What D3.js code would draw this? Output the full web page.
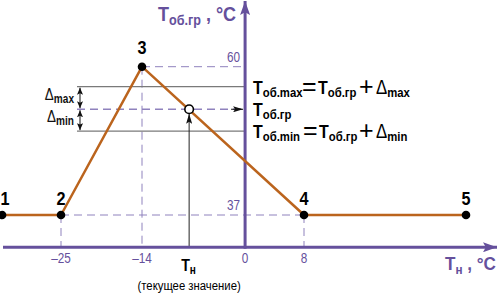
<!DOCTYPE html>
<html>
<head>
<meta charset="utf-8">
<script src="https://cdn.jsdelivr.net/npm/d3@7"></script>
<style>
  body { margin: 0; background: #fff; }
  svg { display: block; }
  text { font-family: "Liberation Sans", Arial, sans-serif; }
</style>
</head>
<body>
<div id="container"></div>
<script>
// точки графика (Tн, Tоб.гр)
const pointT = [-33, -25, -14, 8, 30];
const pointY = [37, 37, 60, 37, 37];
const pointLabels = ["1", "2", "3", "4", "5"];

const xTicks = [-25, -14, 0, 8];
const xTickLabels = ["–25", "–14", "0", "8"];
const yTicks = [37, 60];

// текущее значение и уставки
const tCur = -7.6;
const tGr = 53.4;
const tMax = 56.9;
const tMin = 50.0;

const W = 500, H = 294;
const purple = "#65509c",
      purpleLight = "#8f82bd",
      orange = "#bb641d",
      grey = "#7a7a7a",
      narrow = 0.84;   // шрифт "узкий" — сжимаем по горизонтали

const x = d3.scaleLinear().domain([-25, 8]).range([61, 304]);
const y = d3.scaleLinear().domain([37, 60]).range([215, 66.7]);

const x0 = x(0), yAxisV = 32, yA = y(yAxisV);

const svg = d3.select('#container')
    .append('svg')
    .attr('width', W)
    .attr('height', H);

// текст в узкой группе
function ntext(px, py, anchor, sx) {
    return svg.append("g")
        .attr("transform", `translate(${px},${py}) scale(${sx || narrow},1)`)
        .append("text")
        .attr("text-anchor", anchor || "start");
}

const defs = svg.append("defs");
function marker(id, color, w, h) {
    defs.append("marker")
        .attr("id", id)
        .attr("viewBox", `0 0 ${w} ${h}`)
        .attr("refX", w)
        .attr("refY", h / 2)
        .attr("markerUnits", "userSpaceOnUse")
        .attr("markerWidth", w)
        .attr("markerHeight", h)
        .attr("orient", "auto-start-reverse")
        .append("path")
        .attr("d", `M0,0L${w},${h/2}L0,${h}L${w*0.2},${h/2}Z`)
        .attr("fill", color);
}
marker("axArrow", purple, 14, 10);
marker("blk", "#111", 10, 6);
marker("dlt", "#111", 7, 6);

// пунктирные проекции
const dashed = svg.append("g")
    .attr("stroke", purpleLight)
    .attr("stroke-width", 1)
    .attr("stroke-dasharray", "8,5")
    .attr("fill", "none");

dashed.append("line")
    .attr("x1", x(pointT[1])).attr("x2", x(pointT[3]))
    .attr("y1", y(37)).attr("y2", y(37));
dashed.append("line")
    .attr("x1", x(pointT[2])).attr("x2", x0)
    .attr("y1", y(60)).attr("y2", y(60));
[1, 2, 3].forEach(i => {
    dashed.append("line")
        .attr("x1", x(pointT[i])).attr("x2", x(pointT[i]))
        .attr("y1", y(pointY[i])).attr("y2", yA);
});

// линии уставок
svg.append("g").attr("stroke", grey).attr("stroke-width", 1.3)
    .selectAll("line").data([tMax, tMin]).join("line")
    .attr("x1", 77).attr("x2", x0)
    .attr("y1", d => y(d)).attr("y2", d => y(d));

svg.append("line")
    .attr("x1", 77).attr("x2", x0 - 2)
    .attr("y1", y(tGr)).attr("y2", y(tGr))
    .attr("stroke", purpleLight)
    .attr("stroke-width", 1.3)
    .attr("stroke-dasharray", "8,5");
svg.append("line")
    .attr("x1", x0 - 14).attr("x2", x0 - 2)
    .attr("y1", y(tGr)).attr("y2", y(tGr))
    .attr("stroke", "#111").attr("stroke-width", 1)
    .attr("marker-end", "url(#blk)");

// дельты
[[tMax, tGr], [tGr, tMin]].forEach(p => {
    svg.append("line")
        .attr("x1", 80).attr("x2", 80)
        .attr("y1", y(p[0]) + 1).attr("y2", y(p[1]) - 1)
        .attr("stroke", "#111").attr("stroke-width", 1)
        .attr("marker-start", "url(#dlt)")
        .attr("marker-end", "url(#dlt)");
});

function deltaLabel(val, sub) {
    const t = ntext(74, y(val) + 2, "end").attr("fill", "#111");
    t.append("tspan").attr("font-size", 16).text("Δ");
    t.append("tspan").attr("font-size", 12).attr("font-weight", "bold").attr("dy", 3).text(sub);
}
deltaLabel((tMax + tGr) / 2, "max");
deltaLabel((tGr + tMin) / 2, "min");

// вертикаль текущей температуры
svg.append("line")
    .attr("x1", x(tCur)).attr("x2", x(tCur))
    .attr("y1", yA).attr("y2", y(tGr) + 4.5)
    .attr("stroke", "#222").attr("stroke-width", 1)
    .attr("marker-end", "url(#blk)");

// оси
svg.append("line")
    .attr("x1", 3).attr("x2", 497)
    .attr("y1", yA).attr("y2", yA)
    .attr("stroke", purple).attr("stroke-width", 3)
    .attr("marker-end", "url(#axArrow)");
svg.append("line")
    .attr("x1", x0).attr("x2", x0)
    .attr("y1", yA + 1.5).attr("y2", 1)
    .attr("stroke", purple).attr("stroke-width", 3)
    .attr("marker-end", "url(#axArrow)");

// график
svg.append("path")
    .datum(pointT.map((t, i) => [t, pointY[i]]))
    .attr("d", d3.line().x(d => x(d[0])).y(d => y(d[1])))
    .attr("fill", "none")
    .attr("stroke", orange)
    .attr("stroke-width", 2.5)
    .attr("stroke-linejoin", "round");

svg.append("g").selectAll("circle")
    .data(pointT).join("circle")
    .attr("cx", d => x(d)).attr("cy", (d, i) => y(pointY[i]))
    .attr("r", 4.3).attr("fill", "#000");

svg.append("circle")
    .attr("cx", x(tCur)).attr("cy", y(tGr))
    .attr("r", 4.3)
    .attr("fill", "#fff").attr("stroke", "#000").attr("stroke-width", 1.6);

pointT.forEach((d, i) => {
    ntext(Math.max(x(d), 5), y(pointY[i]) - (pointY[i] > 50 ? 12.5 : 10), "middle", 0.9)
        .attr("font-size", 18).attr("font-weight", "bold")
        .attr("fill", "#000")
        .text(pointLabels[i]);
});

// подписи делений
xTicks.forEach((d, i) => {
    ntext(x(d), 263, "middle")
        .attr("font-size", 14).attr("fill", purple)
        .text(xTickLabels[i]);
});
yTicks.forEach(d => {
    ntext(x0 - 5, y(d) - 5, "end")
        .attr("font-size", 14).attr("fill", purple)
        .text(d);
});

// подписи осей
const yLab = ntext(158, 21, "start", 0.9).attr("font-weight", "bold").attr("fill", purple);
yLab.append("tspan").attr("font-size", 20).text("T");
yLab.append("tspan").attr("font-size", 14).attr("dy", 4).text("об.гр");
yLab.append("tspan").attr("font-size", 20).attr("dy", -4).text(" , °C");

const xLab = ntext(445, 270, "start", 0.9).attr("font-weight", "bold").attr("fill", purple);
xLab.append("tspan").attr("font-size", 19).text("T");
xLab.append("tspan").attr("font-size", 13).attr("dy", 4).text("н");
xLab.append("tspan").attr("font-size", 19).attr("dy", -4).text(" , °C");

const tnLab = ntext(x(tCur) - 8, 271).attr("font-weight", "bold").attr("fill", "#000");
tnLab.append("tspan").attr("font-size", 17).text("T");
tnLab.append("tspan").attr("font-size", 12).attr("dy", 3).text("н");

ntext(x(tCur), 290, "middle")
    .attr("font-size", 13.5).attr("fill", "#000")
    .text("(текущее значение)");

// формулы справа
function tPart(xPos, yPos, sub) {
    const t = ntext(xPos, yPos).attr("font-weight", "bold").attr("fill", "#000");
    t.append("tspan").attr("font-size", 19).text("T");
    t.append("tspan").attr("font-size", 13.5).attr("dy", 3).text(sub);
}
function plain(xPos, yPos, s) {
    ntext(xPos, yPos, "start", 1).attr("font-size", 25).attr("fill", "#000").text(s);
}
function dPart(xPos, yPos, sub) {
    const t = ntext(xPos, yPos).attr("fill", "#000");
    t.append("tspan").attr("font-size", 20).text("Δ");
    t.append("tspan").attr("font-size", 13.5).attr("font-weight", "bold").attr("dy", 3).text(sub);
}

const fy1 = y(tMax) + 7, fy2 = y(tGr) + 7, fy3 = y(tMin) + 7;
tPart(253, fy1, "об.max");
plain(302, fy1 + 1, "=");
tPart(318, fy1, "об.гр");
plain(359, fy1 + 1, "+");
dPart(376, fy1, "max");

tPart(253, fy2, "об.гр");

tPart(253, fy3, "об.min");
plain(303, fy3 + 1, "=");
tPart(319, fy3, "об.гр");
plain(359, fy3 + 1, "+");
dPart(376, fy3, "min");
</script>
</body>
</html>
